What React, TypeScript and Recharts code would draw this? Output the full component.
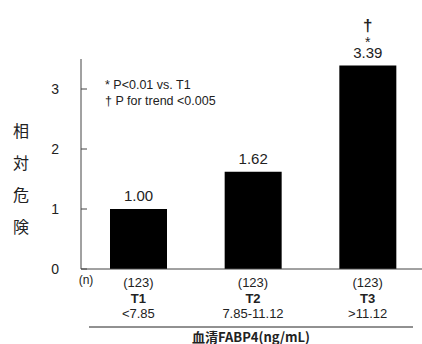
import { Bar, BarChart, LabelList, XAxis, YAxis } from "recharts";

// Relative risk by serum FABP4 tertile.
const groups = ["T1", "T2", "T3"];
const ranges = ["<7.85", "7.85-11.12", ">11.12"];
const counts = [123, 123, 123];
const riskValues = [1.0, 1.62, 3.39];
const sigMarks = ["", "", "*"];
const trendMarks = ["", "", "†"];
const yTicks = [0, 1, 2, 3];
const yLabelChars = ["相", "対", "危", "険"];
const notes = ["* P<0.01 vs. T1", "† P for trend <0.005"];
const xTitle = "血清FABP4(ng/mL)";

const data = groups.map((g, i) => ({
  group: g,
  range: ranges[i],
  n: counts[i],
  risk: riskValues[i],
  sig: sigMarks[i],
  trend: trendMarks[i],
}));

const TEXT = "#222";
const NUM_FONT = "'Liberation Sans', Arial, sans-serif";
const JP_FONT = "'Noto Sans CJK JP', sans-serif";

function XTick(props: any) {
  const { x, y, index } = props;
  const d = data[index];
  return (
    <g fill={TEXT} fontFamily={NUM_FONT} fontSize={13} textAnchor="middle">
      <text x={x} y={y + 18}>({d.n})</text>
      <text x={x} y={y + 34} fontWeight="bold">{d.group}</text>
      <text x={x} y={y + 49}>{d.range}</text>
    </g>
  );
}

function XTitle(props: any) {
  const { viewBox } = props;
  const { x, y, width } = viewBox;
  return (
    <g fill={TEXT}>
      <text x={x + 5} y={y + 15} fontSize={12} fontFamily={NUM_FONT} textAnchor="middle">(n)</text>
      <line x1={x + 8} x2={x + width - 12} y1={y + 58} y2={y + 58} stroke="#222" strokeWidth={1} />
      <text
        x={x + width / 2 - 2}
        y={y + 73}
        fontSize={13}
        fontWeight="bold"
        fontFamily={JP_FONT}
        textAnchor="middle"
      >
        {xTitle}
      </text>
    </g>
  );
}

function YTitle(props: any) {
  const { viewBox } = props;
  const cy = viewBox.y + viewBox.height / 2;
  return (
    <g fill={TEXT} fontFamily={JP_FONT} fontSize={16} textAnchor="middle">
      {yLabelChars.map((c, i) => (
        <text key={c} x={21} y={cy + (i - 1.5) * 32.3 + 21}>
          {c}
        </text>
      ))}
    </g>
  );
}

function ValueLabel(props: any) {
  const { x, y, width, index } = props;
  const cx = x + width / 2;
  const d = data[index];
  return (
    <g fill={TEXT} textAnchor="middle">
      <text x={cx} y={y - 8} fontSize={15} fontFamily={NUM_FONT}>
        {d.risk.toFixed(2)}
      </text>
      {d.sig && (
        <text x={cx} y={y - 19} fontSize={14} fontFamily={NUM_FONT}>
          {d.sig}
        </text>
      )}
      {d.trend && (
        <text x={cx} y={y - 35} fontSize={17} fontWeight="bold" fontFamily={NUM_FONT}>
          {d.trend}
        </text>
      )}
    </g>
  );
}

export default function App() {
  return (
    <div
      style={{
        position: "absolute",
        left: 0,
        top: 0,
        width: 422,
        height: 344,
        overflow: "hidden",
        background: "#fff",
      }}
    >
      <BarChart
        width={425}
        height={344}
        data={data}
        margin={{ top: 59, right: 0, bottom: 0, left: 0 }}
      >
        <XAxis
          dataKey="group"
          height={75}
          axisLine={{ stroke: "#444" }}
          tickLine={false}
          tickSize={0}
          tickMargin={0}
          tick={<XTick />}
          label={<XTitle />}
        />
        <YAxis
          width={81}
          domain={[0, 3.5]}
          ticks={yTicks}
          axisLine={{ stroke: "#444" }}
          tickLine={{ stroke: "#444" }}
          tickSize={-6}
          tickMargin={28}
          tick={{ fontSize: 14, fill: TEXT, fontFamily: NUM_FONT }}
          label={<YTitle />}
        />
        <Bar dataKey="risk" fill="#000" barSize={57} isAnimationActive={false}>
          <LabelList dataKey="risk" content={<ValueLabel />} />
        </Bar>
        <g>
          {notes.map((t, i) => (
            <text
              key={t}
              x={105}
              y={89 + i * 16}
              fontSize={12.5}
              fill={TEXT}
              fontFamily={NUM_FONT}
            >
              {t}
            </text>
          ))}
        </g>
      </BarChart>
    </div>
  );
}
